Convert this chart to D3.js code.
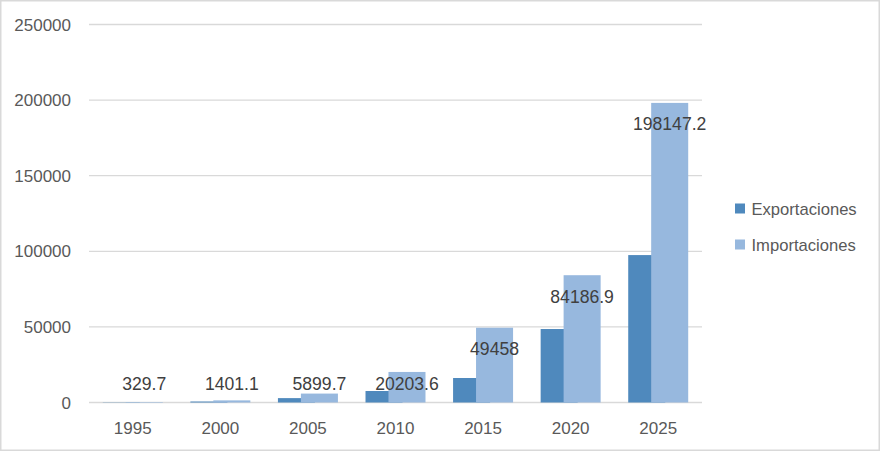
<!DOCTYPE html>
<html>
<head>
<meta charset="utf-8">
<script src="https://cdn.jsdelivr.net/npm/d3@7/dist/d3.min.js"></script>
<style>
  html, body { margin: 0; padding: 0; background: #fff; }
  svg { display: block; }
  text { font-family: "Liberation Sans", Arial, sans-serif; }
</style>
</head>
<body>
<svg id="chart" width="881" height="452"></svg>
<script>
const years = ["1995", "2000", "2005", "2010", "2015", "2020", "2025"];
const exportaciones = [150, 650, 2900, 7600, 16200, 48600, 97500];
const importaciones = [329.7, 1401.1, 5899.7, 20203.6, 49458, 84186.9, 198147.2];
const yTicks = [0, 50000, 100000, 150000, 200000, 250000];
const seriesNames = ["Exportaciones", "Importaciones"];
const colors = ["#4f89bd", "#97b8de"];

const svg = d3.select("#chart");
const plot = { left: 89, right: 702, top: 24.5, bottom: 402.5 };

svg.append("rect").attr("x", 0.75).attr("y", 0.75).attr("width", 878.5).attr("height", 449.5)
  .attr("fill", "#fff").attr("stroke", "#d9d9d9").attr("stroke-width", 1.5);

const y = d3.scaleLinear().domain([0, 250000]).range([plot.bottom, plot.top]);
const x0 = d3.scaleBand().domain(years).range([plot.left, plot.right]).paddingInner(0.315).paddingOuter(0.1575);
const overlap = 0.38;
const barW = x0.bandwidth() / (2 - overlap);

// gridlines
svg.append("g").selectAll("line").data(yTicks).join("line")
  .attr("x1", plot.left).attr("x2", plot.right)
  .attr("y1", d => y(d)).attr("y2", d => y(d))
  .attr("stroke", "#d9d9d9").attr("stroke-width", 1.3);

// y axis labels
svg.append("g").selectAll("text").data(yTicks).join("text")
  .attr("x", 71).attr("y", d => y(d) + 6)
  .attr("text-anchor", "end").attr("font-size", "17px").attr("fill", "#595959")
  .text(d => d);

// x axis labels
svg.append("g").selectAll("text").data(years).join("text")
  .attr("x", d => x0(d) + x0.bandwidth() / 2).attr("y", 433.5)
  .attr("text-anchor", "middle").attr("font-size", "17px").attr("fill", "#595959")
  .text(d => d);

// bars: exportaciones first, importaciones overlapping on top
svg.append("g").selectAll("rect").data(years).join("rect")
  .attr("x", d => x0(d)).attr("width", barW)
  .attr("y", (d, i) => y(exportaciones[i]))
  .attr("height", (d, i) => y(0) - y(exportaciones[i]))
  .attr("fill", colors[0]);

svg.append("g").selectAll("rect").data(years).join("rect")
  .attr("x", d => x0(d) + x0.bandwidth() - barW).attr("width", barW)
  .attr("y", (d, i) => y(importaciones[i]))
  .attr("height", (d, i) => y(0) - y(importaciones[i]))
  .attr("fill", colors[1]);

// data labels for importaciones
svg.append("g").selectAll("text").data(years).join("text")
  .attr("x", d => x0(d) + x0.bandwidth() - barW / 2)
  .attr("y", (d, i) => Math.min(y(importaciones[i]) + 27.5, 389.5))
  .attr("text-anchor", "middle").attr("font-size", "17.6px").attr("fill", "#404040")
  .text((d, i) => importaciones[i]);

// legend
const leg = svg.append("g");
seriesNames.forEach((name, i) => {
  leg.append("rect").attr("x", 735).attr("y", 203.5 + i * 36).attr("width", 10).attr("height", 10).attr("fill", colors[i]);
  leg.append("text").attr("x", 751.5).attr("y", 214.5 + i * 36)
    .attr("font-size", "16.6px").attr("fill", "#595959").text(name);
});
</script>
</body>
</html>
